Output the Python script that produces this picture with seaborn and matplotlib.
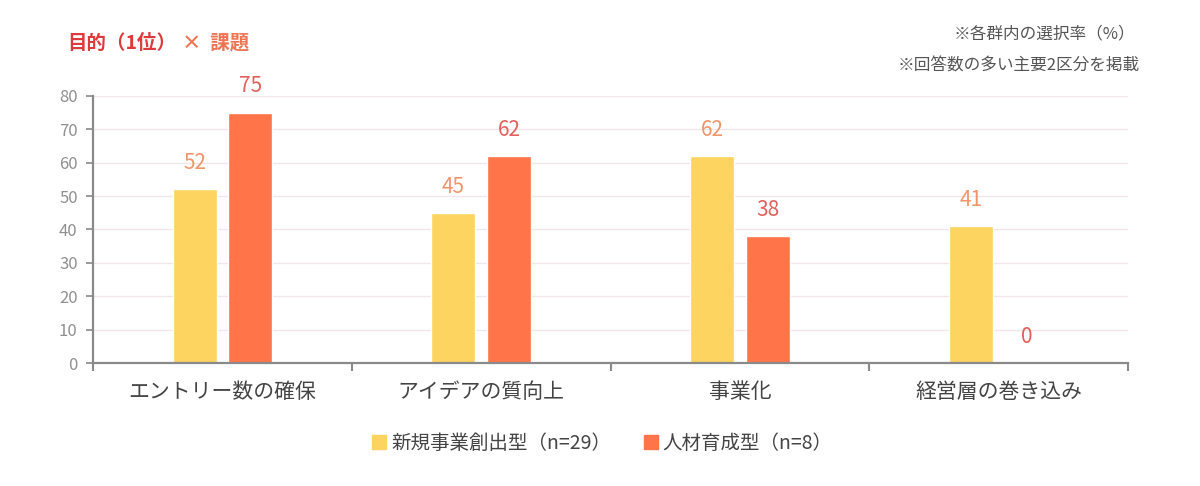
import matplotlib
matplotlib.use("Agg")
import matplotlib.pyplot as plt
import seaborn as sns
import pandas as pd
from matplotlib.lines import Line2D

categories = ["エントリー数の確保", "アイデアの質向上", "事業化", "経営層の巻き込み"]
series_names = ["新規事業創出型（n=29）", "人材育成型（n=8）"]
values_new = [52, 45, 62, 41]
values_hr = [75, 62, 38, 0]
yticks = [0, 10, 20, 30, 40, 50, 60, 70, 80]

colors = ["#FDD45F", "#FF7448"]
label_colors = ["#F0956A", "#E3605C"]

sns.set_theme(style="white")
plt.rcParams['font.family'] = ['Noto Sans CJK JP', 'DejaVu Sans']

df = pd.DataFrame({
    "cat": categories * 2,
    "series": [series_names[0]] * 4 + [series_names[1]] * 4,
    "val": values_new + values_hr,
})

fig = plt.figure(figsize=(12, 4.86), dpi=100)
ax = fig.add_axes([93/1200, 1 - 363/486, (1128-93)/1200, (363-96)/486])

sns.barplot(data=df, x="cat", y="val", hue="series", order=categories,
            hue_order=series_names, palette=colors, width=0.43, gap=0.21,
            saturation=1, legend=False, ax=ax)

for cont, lc in zip(ax.containers, label_colors):
    ax.bar_label(cont, padding=11, color=lc, fontsize=15)

ax.set_ylim(0, 80)
ax.set_xlim(-0.5, 3.5)
ax.set_yticks(yticks)
ax.yaxis.grid(True, color="#F2E6EA", linewidth=1)
ax.set_axisbelow(True)
ax.set_xlabel("")
ax.set_ylabel("")
for s in ["top", "right"]:
    ax.spines[s].set_visible(False)
for s in ["left", "bottom"]:
    ax.spines[s].set_color("#8A8A8A")
    ax.spines[s].set_linewidth(1.6)

ax.tick_params(axis="y", colors="#8A8A8A", labelsize=12, length=5, width=1.2, direction="out", left=True, pad=6)
ax.tick_params(axis="x", which="major", length=0, labelsize=15, labelcolor="#444444", pad=13)
ax.set_xticks([-0.5, 0.5, 1.5, 2.5, 3.5], minor=True)
ax.tick_params(axis="x", which="minor", length=6, width=1.5, color="#8A8A8A", bottom=True)
for lbl in ax.get_yticklabels():
    lbl.set_color("#909090")

fig.text(67/1200, 1 - 43/486, "目的（1位）", color="#DD3B3B", fontsize=14, fontweight="bold", va="center")
fig.text(182/1200, 1 - 43/486, "×  課題", color="#EE7452", fontsize=14, fontweight="bold", va="center")
fig.text(1135/1200, 1 - 34/486, "※各群内の選択率（%）", color="#555555", fontsize=12, ha="right", va="center")
fig.text(1140/1200, 1 - 66/486, "※回答数の多い主要2区分を掲載", color="#555555", fontsize=12, ha="right", va="center")

handles = [Line2D([0], [0], marker="s", linestyle="", markersize=9.5, markerfacecolor=c, markeredgecolor=c)
           for c in colors]
fig.legend(handles, series_names, loc="center", bbox_to_anchor=(603/1200, 1 - 443/486), ncol=2,
           frameon=False, fontsize=14, handlelength=0.6, handletextpad=0.3, columnspacing=1.75,
           labelcolor="#444444")

fig.savefig("out.png", dpi=100)
